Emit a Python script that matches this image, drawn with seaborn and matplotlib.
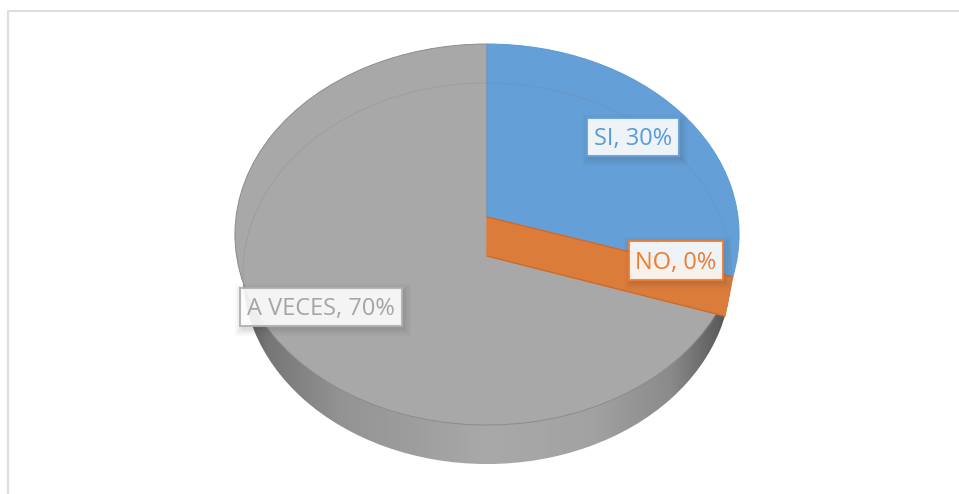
import numpy as np
import matplotlib
matplotlib.use("Agg")
import matplotlib.pyplot as plt
import seaborn as sns
from matplotlib.colors import LinearSegmentedColormap
from matplotlib.patches import Rectangle
from matplotlib.transforms import Transform

# Chart data
categories = ["SI", "NO", "A VECES"]
percentages = [30, 0, 70]
slice_colors = ["#659FD7", "#DC7C3A", "#A8A8A8"]
edge_colors = ["#5B9BD5", "#ED7D31", "#8C8C8C"]
label_colors = ["#5B9BD5", "#ED7D31", "#A5A5A5"]
box_edges = ["#659FD7", "#ED7D31", "#B0B0B0"]

# Label boxes in pixels: left, top, right, bottom
label_boxes = [(587, 118, 679, 156), (629, 241, 723, 280), (240, 288, 402, 326)]

DEPTH = 39


# Pie tilted in perspective, the slices meet above the middle of the ellipse
class Perspective(Transform):
    input_dims = 2
    output_dims = 2
    is_separable = False
    has_inverse = False

    def __init__(self, shift=0, width=251):
        super().__init__()
        self.shift = shift
        self.width = width

    def transform_non_affine(self, values):
        values = np.asarray(values, dtype=float)
        x, y = values[:, 0], values[:, 1]
        w = 1 + 0.0919 * y
        px = 487 + self.width * x / w
        py = (217 - 168.96 * y) / w + self.shift
        return np.column_stack([px, py])


sns.set_theme(style="white")
plt.rcParams["font.family"] = ["Open Sans", "DejaVu Sans"]

fig = plt.figure(figsize=(9.59, 4.94), dpi=100)
ax = fig.add_axes([0, 0, 1, 1])

top_face = Perspective()
bottom_face = Perspective(shift=DEPTH, width=243)

# Side wall of the pie, lit in the middle and dark at both ends
wall_cmap = LinearSegmentedColormap.from_list(
    "wall",
    [(0.0, "#5a5a5a"), (0.05, "#767676"), (0.2, "#939393"), (0.5, "#a9a9a9"),
     (0.72, "#a2a2a2"), (0.88, "#8a8a8a"), (0.97, "#606060"), (1.0, "#505050")],
)
wall_shape, _ = ax.pie([1], radius=1, colors=["#a0a0a0"], startangle=90)
wall_shape[0].set_transform(bottom_face + ax.transData)
wall_shape[0].set_zorder(1)
wall = ax.imshow(np.linspace(0, 1, 512).reshape(1, -1), cmap=wall_cmap, aspect="auto",
                 extent=(243, 731, 480, 200), zorder=1.5)
wall.set_clip_path(wall_shape[0])

# Top face
wedges, _ = ax.pie(percentages, colors=slice_colors, startangle=90, counterclock=False)
for wedge, edge in zip(wedges, edge_colors):
    wedge.set_transform(top_face + ax.transData)
    wedge.set_edgecolor(edge)
    wedge.set_linewidth(0.7)
    wedge.set_zorder(2)
wedges[0].set_zorder(2.2)
wedges[1].set_visible(False)

# The 0% slice only shows as its cut face going down through the pie
angle = np.pi / 2 - 2 * np.pi * sum(percentages[:2]) / sum(percentages)
rim = np.array([[0, 0], [np.cos(angle), np.sin(angle)]])
top_edge = top_face.transform_non_affine(rim)
bottom_edge = bottom_face.transform_non_affine(rim)[::-1]
band = np.vstack([top_edge, bottom_edge])
ax.fill(band[:, 0], band[:, 1], color=slice_colors[1], zorder=3)
ax.plot(band[[0, 1], 0], band[[0, 1], 1], color="#C9692B", lw=0.8, zorder=3.1)
ax.plot(band[[3, 2], 0], band[[3, 2], 1], color="#C9692B", lw=0.8, zorder=3.1)

# Faint back rim seen through the top face
theta = np.radians(np.linspace(-12, 192, 200))
back_rim = bottom_face.transform_non_affine(np.column_stack([np.cos(theta), np.sin(theta)]))
ax.plot(back_rim[:, 0], back_rim[:, 1], color="#7f7f7f", alpha=0.25, lw=0.7, zorder=3.2)

# Data labels with a soft shadow
for cat, pct, color, edge, box in zip(categories, percentages, label_colors, box_edges, label_boxes):
    left, top, right, bottom = box
    for grow, alpha in [(7, 0.03), (5, 0.04), (3, 0.05), (1, 0.06)]:
        ax.add_patch(Rectangle((left - grow + 2, top - grow + 3), right - left + 2 * grow,
                               bottom - top + 2 * grow, facecolor="#404040", edgecolor="none",
                               alpha=alpha, zorder=4))
    ax.add_patch(Rectangle((left, top), right - left, bottom - top, facecolor="white",
                           edgecolor=edge, linewidth=1.5, alpha=0.9, zorder=5))
    ax.text((left + right) / 2, (top + bottom) / 2 + 2, f"{cat}, {pct}%", color=color, fontsize=17,
            ha="center", va="center", zorder=6)

# Chart frame, only the top and left sides are in the crop
ax.plot([8, 8, 959], [494, 11, 11], color="#DEDEDE", lw=1.5, zorder=0.5)

ax.set_aspect("auto")
ax.set_xlim(0, 959)
ax.set_ylim(494, 0)
ax.axis("off")

fig.savefig("out.png", dpi=100)
